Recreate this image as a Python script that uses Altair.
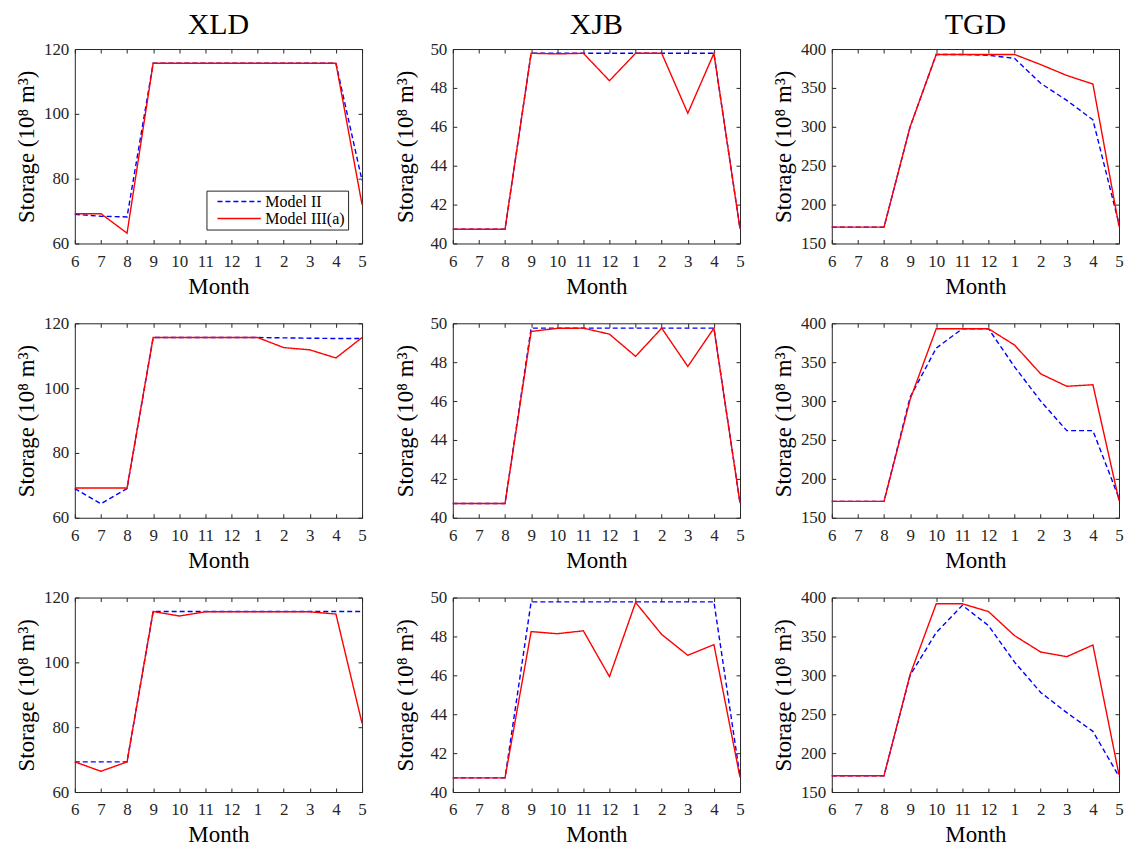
import altair as alt
import pandas as pd

months = ["6", "7", "8", "9", "10", "11", "12", "1", "2", "3", "4", "5"]
models = ["Model II", "Model III(a)"]
stations = ["XLD", "XJB", "TGD"]

# y-axis settings per station
y_domain = {"XLD": [60, 120], "XJB": [40, 50], "TGD": [150, 400]}
y_ticks = {"XLD": [60, 80, 100, 120], "XJB": [40, 42, 44, 46, 48, 50],
           "TGD": [150, 200, 250, 300, 350, 400]}

# Row 1
xld_r1_ii = [69.0, 68.4, 68.2, 115.6, 115.6, 115.6, 115.6, 115.6, 115.6, 115.6, 115.6, 79.4]
xld_r1_iii = [69.2, 69.2, 63.2, 115.6, 115.6, 115.6, 115.6, 115.6, 115.6, 115.6, 115.6, 72.0]
xjb_r1_ii = [40.73, 40.73, 40.73, 49.78, 49.78, 49.78, 49.78, 49.78, 49.78, 49.78, 49.78, 40.75]
xjb_r1_iii = [40.73, 40.73, 40.73, 49.78, 49.75, 49.78, 48.37, 49.78, 49.78, 46.70, 49.78, 40.75]
tgd_r1_ii = [171, 171, 171, 300, 393, 393, 392, 388, 356, 334, 309, 175]
tgd_r1_iii = [171, 171, 171, 300, 393, 393, 393, 393, 380, 366, 355, 172]

# Row 2
xld_r2_ii = [69.0, 64.3, 69.0, 115.6, 115.6, 115.6, 115.6, 115.6, 115.5, 115.4, 115.3, 115.3]
xld_r2_iii = [69.2, 69.2, 69.2, 115.6, 115.6, 115.6, 115.6, 115.6, 112.5, 111.8, 109.3, 115.6]
xjb_r2_ii = [40.73, 40.73, 40.73, 49.75, 49.75, 49.75, 49.75, 49.75, 49.75, 49.75, 49.75, 40.75]
xjb_r2_iii = [40.73, 40.73, 40.73, 49.58, 49.74, 49.75, 49.44, 48.30, 49.75, 47.78, 49.75, 40.75]
tgd_r2_ii = [171, 171, 171, 305, 368, 393, 393, 344, 300, 262, 262, 175]
tgd_r2_iii = [171, 171, 171, 302, 393, 393, 393, 372, 335, 319, 321, 172]

# Row 3
xld_r3_ii = [69.3, 69.3, 69.3, 115.7, 115.7, 115.7, 115.7, 115.7, 115.7, 115.7, 115.7, 115.7]
xld_r3_iii = [69.3, 66.4, 69.3, 115.7, 114.3, 115.6, 115.6, 115.6, 115.6, 115.6, 114.9, 81.2]
xjb_r3_ii = [40.73, 40.73, 40.73, 49.78, 49.78, 49.78, 49.78, 49.78, 49.78, 49.78, 49.78, 40.80]
xjb_r3_iii = [40.73, 40.73, 40.73, 48.25, 48.14, 48.29, 45.93, 49.75, 48.10, 47.03, 47.58, 40.75]
tgd_r3_ii = [171, 171, 171, 300, 355, 390, 364, 317, 278, 252, 228, 170]
tgd_r3_iii = [171, 171, 171, 301, 392, 392, 382, 351, 330, 324, 339, 172]

rows = [
    [(xld_r1_ii, xld_r1_iii), (xjb_r1_ii, xjb_r1_iii), (tgd_r1_ii, tgd_r1_iii)],
    [(xld_r2_ii, xld_r2_iii), (xjb_r2_ii, xjb_r2_iii), (tgd_r2_ii, tgd_r2_iii)],
    [(xld_r3_ii, xld_r3_iii), (xjb_r3_ii, xjb_r3_iii), (tgd_r3_ii, tgd_r3_iii)],
]

FONT = "Liberation Serif"
AX = "#262626"
title_pad = {"XLD": 5, "XJB": 12, "TGD": 5}


def panel(ii, iii, station, show_title, show_legend):
    recs = []
    for m, v in zip(months, ii):
        recs.append({"Month": m, "Storage": v, "Model": models[0]})
    for m, v in zip(months, iii):
        recs.append({"Month": m, "Storage": v, "Model": models[1]})
    df = pd.DataFrame(recs)

    xscale = alt.Scale(type="point", padding=0)
    yscale = alt.Scale(domain=y_domain[station], nice=False, zero=False)

    if show_legend:
        leg = alt.Legend(orient="bottom-right", offset=14, title=None,
                         fillColor="white", strokeColor=AX, padding=3,
                         labelFont=FONT, labelFontSize=16, labelColor="#000000",
                         symbolType="M0,0H6", symbolSize=210, symbolStrokeWidth=1.5,
                         symbolFillColor="transparent",
                         rowPadding=1, labelOffset=40)
    else:
        leg = None

    color = alt.Color("Model:N", scale=alt.Scale(domain=models, range=["#0000FF", "#FF0000"]),
                      legend=leg)
    dash = alt.StrokeDash("Model:N", scale=alt.Scale(domain=models, range=[[5, 3], [1, 0]]),
                          legend=leg)

    lines = alt.Chart(df).mark_line(strokeWidth=1.4).encode(
        x=alt.X("Month:N", sort=months, scale=xscale,
                axis=alt.Axis(orient="bottom", title="Month", offset=-4, tickSize=4,
                              domain=False, labelAngle=0, labelPadding=10, titlePadding=6)),
        y=alt.Y("Storage:Q", scale=yscale,
                axis=alt.Axis(orient="left", title="Storage (10⁸ m³)", values=y_ticks[station],
                              offset=-4, tickSize=4, domain=False, labelPadding=6,
                              titlePadding=title_pad[station])),
        color=color,
        strokeDash=dash,
    )
    frame = alt.Chart(df).mark_line(opacity=0).encode(
        x=alt.X("Month:N", sort=months, scale=xscale,
                axis=alt.Axis(orient="top", title=None, labels=False, offset=-4,
                              tickSize=4, domain=False)),
        y=alt.Y("Storage:Q", scale=yscale,
                axis=alt.Axis(orient="right", title=None, labels=False, values=y_ticks[station],
                              offset=-4, tickSize=4, domain=False)),
    )
    ch = alt.layer(lines, frame).resolve_axis(x="independent", y="independent")
    props = dict(width=288, height=195)
    if show_title:
        props["title"] = alt.TitleParams(station, font=FONT, fontSize=30, fontWeight="normal",
                                         color="#000000", offset=0.5)
    return ch.properties(**props)


row_charts = []
for r, row in enumerate(rows):
    panels = []
    for c, (ii, iii) in enumerate(row):
        panels.append(panel(ii, iii, stations[c], r == 0, r == 0 and c == 0))
    row_charts.append(
        alt.hconcat(*panels, spacing=27).resolve_scale(color="independent", strokeDash="independent")
    )

chart = alt.vconcat(*row_charts, spacing=14).resolve_scale(
    color="independent", strokeDash="independent"
).properties(padding={"left": 7, "top": 0, "right": 0, "bottom": 0}).configure_axis(
    labelFont=FONT, titleFont=FONT, labelFontSize=17, titleFontSize=23,
    titleFontWeight="normal", labelColor=AX, titleColor="#000000", tickColor=AX,
    grid=False,
).configure_view(stroke=AX, strokeWidth=1)

chart.save("out.html", embed_options={"renderer": "svg", "actions": False})
